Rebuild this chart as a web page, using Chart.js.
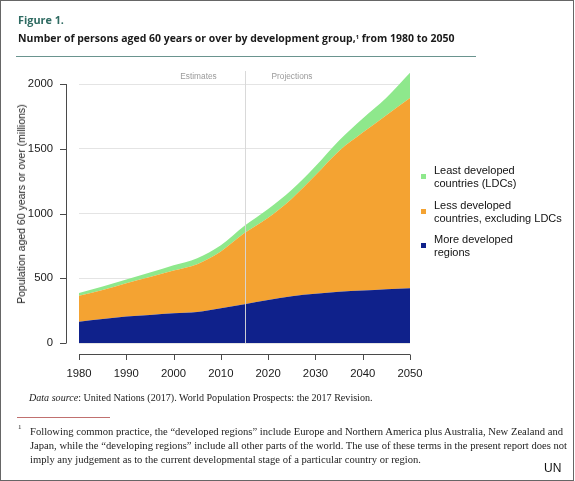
<!DOCTYPE html>
<html>
<head>
<meta charset="utf-8">
<script src="https://cdn.jsdelivr.net/npm/chart.js@4.4.1/dist/chart.umd.min.js"></script>
<style>
  html, body { margin:0; padding:0; background:#fff; }
  body { width:575px; height:481px; position:relative; overflow:hidden; font-family:"Liberation Sans", Arial, sans-serif; }
  .abs { position:absolute; white-space:nowrap; }
  #frame { position:absolute; left:0; top:0; width:574px; height:481px; box-sizing:border-box; border:1px solid #666; pointer-events:none; }
  #chartWrap { position:absolute; left:0; top:0; width:575px; height:481px; }
  .sans-b { font-family:"Open Sans", "Liberation Sans", sans-serif; font-weight:700; }
  .serif { font-family:"Liberation Serif", "DejaVu Serif", serif; color:#222; }
  .leg { position:absolute; left:434px; font-size:11px; line-height:13.4px; color:#111; white-space:nowrap; }
  .sw { position:absolute; left:421px; width:5px; height:5px; }
</style>
</head>
<body>
<div id="chartWrap"><canvas id="c" width="575" height="481"></canvas></div>

<div id="fig" class="abs sans-b" style="left:18px; top:11px; font-size:13px; line-height:18px; color:#2f6b62;">Figure 1.</div>
<div id="ttl" class="abs sans-b" style="left:18px; top:29px; font-size:12.5px; line-height:18px; color:#1a1a1a;">Number of persons aged 60 years or over by development group,<sup style="font-size:0.55em; vertical-align:0.55em; line-height:0;">1</sup> from 1980 to 2050</div>
<div class="abs" style="left:16px; top:55.5px; width:460px; height:1px; background:#6a948f;"></div>

<div id="ytitle" class="abs" style="left:20.5px; top:204px; font-size:10.5px; line-height:12px; color:#222; transform:translate(-50%,-50%) rotate(-90deg);">Population aged 60 years or over (millions)</div>

<div id="legend"></div>

<div id="src" class="abs serif" style="left:29px; top:391px; font-size:10px; line-height:14px;"><i>Data source</i>: United Nations (2017). World Population Prospects: the 2017 Revision.</div>
<div class="abs" style="left:17px; top:417px; width:93px; height:1px; background:#c0706f;"></div>
<div class="abs serif" style="left:18px; top:423px; font-size:7px; line-height:8px;">1</div>
<div id="fn1" class="serif" style="position:absolute; left:30px; top:425px; width:533px; font-size:10.2px; line-height:14px; text-align:justify; text-align-last:justify; white-space:nowrap;">Following common practice, the “developed regions” include Europe and Northern America plus Australia, New Zealand and</div>
<div id="fn2" class="serif" style="position:absolute; left:30px; top:439px; width:533px; font-size:10.2px; line-height:14px; text-align:justify; text-align-last:justify; white-space:nowrap;">Japan, while the “developing regions” include all other parts of the world. The use of these terms in the present report does not</div>
<div id="fn3" class="abs serif" style="left:30px; top:453px; font-size:10.2px; line-height:14px;">imply any judgement as to the current developmental stage of a particular country or region.</div>
<div class="abs" style="left:544px; top:461px; font-size:12px; line-height:14px; color:#111;">UN</div>
<div id="frame"></div>

<script>
// ---- Data (millions of persons aged 60+) ----
const years = [1980,1985,1990,1995,2000,2005,2010,2015,2020,2025,2030,2035,2040,2045,2050];
const moreDeveloped        = [165,185,204,217,230,240,268,300,332,362,380,395,405,415,423];
const lessDevelopedExclLDC = [199,225,258,293,330,369,439,549,636,753,915,1088,1220,1345,1470];
const leastDeveloped       = [ 23, 27, 29, 34, 40, 46, 48, 56, 67, 69, 70, 82,110,135,194];
const xTickValues = [1980,1990,2000,2010,2020,2030,2040,2050];
const yTickValues = [0,500,1000,1500,2000];
const splitYear = 2015;
const seriesLabels = [
  ["More developed", "regions"],
  ["Less developed", "countries, excluding LDCs"],
  ["Least developed", "countries (LDCs)"]
];
const seriesColors = ["#0f218b", "#f4a332", "#8ee88c"];

// ---- text fitting helpers ----
function fitWidth(id, target){
  const el = document.getElementById(id);
  const w = el.getBoundingClientRect().width;
  const fs = parseFloat(getComputedStyle(el).fontSize);
  el.style.fontSize = (fs * target / w) + "px";
  return fs * target / w;
}
fitWidth("fig", 46);
fitWidth("ttl", 437);
fitWidth("src", 344);
const fnSize = fitWidth("fn3", 391);
document.getElementById("fn1").style.fontSize = fnSize + "px";
document.getElementById("fn2").style.fontSize = fnSize + "px";

// ---- legend (top item first, as in the reference) ----
const legendTops = [164, 199, 233];
const legend = document.getElementById("legend");
[2,1,0].forEach((si, k) => {
  const t = document.createElement("div");
  t.className = "leg";
  t.style.top = legendTops[k] + "px";
  t.innerHTML = seriesLabels[si].join("<br>");
  legend.appendChild(t);
  const s = document.createElement("div");
  s.className = "sw";
  s.style.top = (legendTops[k] + 10) + "px";
  s.style.background = seriesColors[si];
  legend.appendChild(s);
});

// ---- chart ----
const mk = arr => years.map((x, i) => ({x, y: arr[i]}));

const overlay = {
  id: "overlay",
  afterDatasetsDraw(chart) {
    const {ctx, chartArea:a, scales:{x, y}} = chart;
    ctx.save();
    // Estimates / Projections divider
    const sx = Math.round(x.getPixelForValue(splitYear)) + 0.5;
    ctx.strokeStyle = "rgba(215,215,215,0.95)";
    ctx.lineWidth = 1;
    ctx.beginPath(); ctx.moveTo(sx, a.top + 7); ctx.lineTo(sx, a.bottom); ctx.stroke();
    ctx.fillStyle = "#9a9a9a";
    ctx.font = "8.3px 'Liberation Sans', Arial, sans-serif";
    ctx.textAlign = "center"; ctx.textBaseline = "middle";
    ctx.fillText("Estimates", sx - 47, a.top + 13);
    ctx.fillText("Projections", sx + 46.5, a.top + 12.5);
    // detached axes (R style)
    ctx.strokeStyle = "#4a4a4a";
    ctx.lineWidth = 1;
    const ax = Math.round(a.left - 13) + 0.5;
    ctx.beginPath();
    ctx.moveTo(ax, y.getPixelForValue(yTickValues[0]));
    ctx.lineTo(ax, y.getPixelForValue(yTickValues[yTickValues.length-1]));
    yTickValues.forEach(v => {
      const py = Math.round(y.getPixelForValue(v)) + 0.5;
      ctx.moveTo(ax, py); ctx.lineTo(ax - 6.5, py);
    });
    const ay = Math.round(a.bottom + 11) + 0.5;
    ctx.moveTo(x.getPixelForValue(xTickValues[0]), ay);
    ctx.lineTo(x.getPixelForValue(xTickValues[xTickValues.length-1]), ay);
    xTickValues.forEach(v => {
      const px = Math.round(x.getPixelForValue(v)) + 0.5;
      ctx.moveTo(px, ay); ctx.lineTo(px, ay + 5.5);
    });
    ctx.stroke();
    ctx.restore();
  }
};

const common = { pointRadius:0, borderWidth:0, cubicInterpolationMode:"monotone" };

new Chart(document.getElementById("c"), {
  type: "line",
  data: {
    datasets: [
      { ...common, label: seriesLabels[0].join(" "), data: mk(moreDeveloped), backgroundColor: seriesColors[0], borderColor: seriesColors[0], fill: "origin" },
      { ...common, label: seriesLabels[1].join(" "), data: mk(lessDevelopedExclLDC), backgroundColor: seriesColors[1], borderColor: seriesColors[1], fill: "-1" },
      { ...common, label: seriesLabels[2].join(" "), data: mk(leastDeveloped), backgroundColor: seriesColors[2], borderColor: seriesColors[2], fill: "-1" }
    ]
  },
  options: {
    responsive: false,
    animation: false,
    devicePixelRatio: 1,
    layout: { padding: { left: 0, right: 165, top: 64, bottom: 88 } },
    plugins: { legend: { display: false }, tooltip: { enabled: false } },
    elements: { line: { tension: 0.4 } },
    scales: {
      x: {
        type: "linear", min: 1980, max: 2050,
        afterBuildTicks: s => { s.ticks = xTickValues.map(v => ({value: v})); },
        afterFit: s => { s.height = 50; },
        grid: { display: false, drawTicks: false },
        border: { display: false },
        ticks: { color: "#1a1a1a", padding: 24, maxRotation: 0, font: { family: "'Liberation Sans', Arial, sans-serif", size: 11.3 }, callback: v => String(v) }
      },
      y: {
        stacked: true, min: 0, max: 2155,
        afterBuildTicks: s => { s.ticks = yTickValues.map(v => ({value: v})); },
        afterFit: s => { s.width = 79; },
        grid: { color: "#e4e4e4", lineWidth: 1, drawTicks: false },
        border: { display: false },
        ticks: { color: "#1a1a1a", padding: 26, font: { family: "'Liberation Sans', Arial, sans-serif", size: 11.3 }, callback: v => String(v) }
      }
    }
  },
  plugins: [overlay]
});
</script>
</body>
</html>
